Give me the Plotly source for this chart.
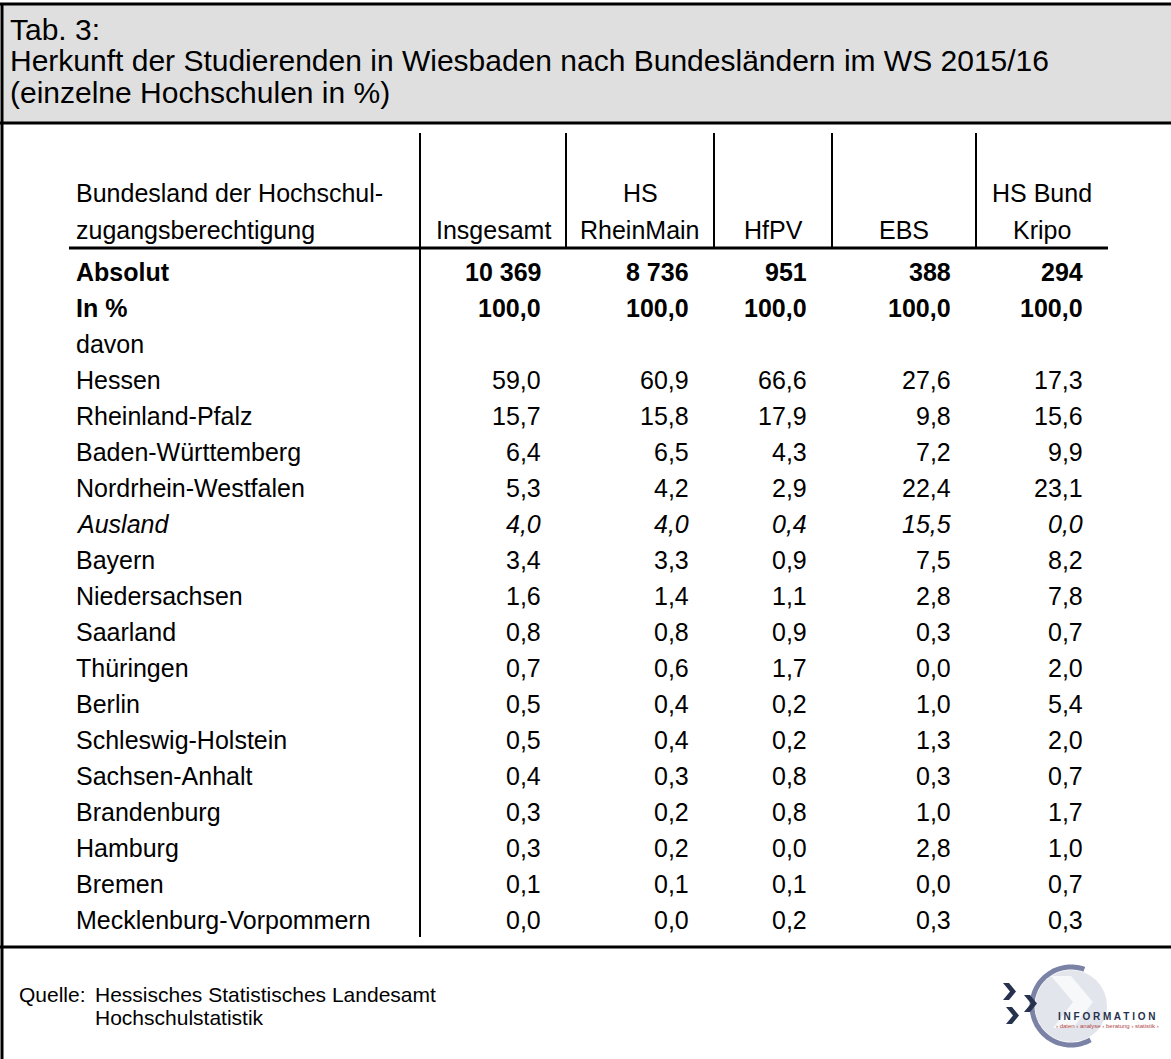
import numpy as np
import plotly.graph_objects as go

W, H = 1171, 1059

# ---------------- data ----------------
title_lines = ["Tab. 3:",
               "Herkunft der Studierenden in Wiesbaden nach Bundesländern im WS 2015/16",
               "(einzelne Hochschulen in %)"]
stub_header = ["Bundesland der Hochschul-", "zugangsberechtigung"]
col_header_top = ["", "HS", "", "", "HS Bund"]
col_header_bottom = ["Insgesamt", "RheinMain", "HfPV", "EBS", "Kripo"]

absolut = [10369, 8736, 951, 388, 294]
in_prozent = [100.0, 100.0, 100.0, 100.0, 100.0]

laender = ["Hessen", "Rheinland-Pfalz", "Baden-Württemberg", "Nordrhein-Westfalen",
           "Ausland", "Bayern", "Niedersachsen", "Saarland", "Thüringen", "Berlin",
           "Schleswig-Holstein", "Sachsen-Anhalt", "Brandenburg", "Hamburg", "Bremen",
           "Mecklenburg-Vorpommern"]
insgesamt = [59.0, 15.7, 6.4, 5.3, 4.0, 3.4, 1.6, 0.8, 0.7, 0.5, 0.5, 0.4, 0.3, 0.3, 0.1, 0.0]
hs_rheinmain = [60.9, 15.8, 6.5, 4.2, 4.0, 3.3, 1.4, 0.8, 0.6, 0.4, 0.4, 0.3, 0.2, 0.2, 0.1, 0.0]
hfpv = [66.6, 17.9, 4.3, 2.9, 0.4, 0.9, 1.1, 0.9, 1.7, 0.2, 0.2, 0.8, 0.8, 0.0, 0.1, 0.2]
ebs = [27.6, 9.8, 7.2, 22.4, 15.5, 7.5, 2.8, 0.3, 0.0, 1.0, 1.3, 0.3, 1.0, 2.8, 0.0, 0.3]
hs_bund_kripo = [17.3, 15.6, 9.9, 23.1, 0.0, 8.2, 7.8, 0.7, 2.0, 5.4, 2.0, 0.7, 1.7, 1.0, 0.7, 0.3]
italic_rows = ["Ausland"]

quelle_label = "Quelle:"
quelle_lines = ["Hessisches Statistisches Landesamt", "Hochschulstatistik"]

# ---------------- layout constants ----------------
FONT = "Liberation Sans, Arial, sans-serif"
FS_BODY = 25
FS_TITLE = 30
FS_FOOT = 21
INK = "#000000"

col_lines_x = [420, 566, 714, 832, 976]
table_right = 1108
stub_x = 75
row0_y = 272
pitch = 36.0
hdr1_y, hdr2_y = 193, 230
underline_y = 248
vtop = 133
header_bottom = 123
footer_line_y = 947


def fmt_pct(v):
    return f"{v:.1f}".replace(".", ",")


def fmt_abs(v):
    return f"{v:,}".replace(",", " ")


fig = go.Figure()
fig.add_trace(go.Scatter(x=[0, W], y=[0, H], mode="markers",
                         marker=dict(opacity=0), hoverinfo="skip", showlegend=False))

shapes = []
annos = []


def text(x, y, s, size=FS_BODY, xanchor="left", bold=False, italic=False, color=INK):
    t = s
    if bold:
        t = f"<b>{t}</b>"
    if italic:
        t = f"<i>{t}</i>"
    annos.append(dict(x=x, y=y, xref="x", yref="y", text=t, showarrow=False,
                      xanchor=xanchor, yanchor="middle", borderpad=0,
                      font=dict(family=FONT, size=size, color=color)))


def line(x0, y0, x1, y1, w=2, color=INK):
    shapes.append(dict(type="line", x0=x0, y0=y0, x1=x1, y1=y1, xref="x", yref="y",
                       line=dict(color=color, width=w)))


# title box
shapes.append(dict(type="rect", x0=2, y0=4, x1=W + 5, y1=header_bottom, xref="x", yref="y",
                   fillcolor="#DFDFDF", line=dict(width=0), layer="below"))
line(0, 4, W + 5, 4, 3)
line(2, 3, 2, H + 5, 3)
line(0, header_bottom, W + 5, header_bottom, 3)
title_y = [29, 60.5, 92]
for ty, tl in zip(title_y, title_lines):
    text(9, ty, tl, size=FS_TITLE)

# column separators
line(col_lines_x[0], vtop, col_lines_x[0], 937, 2)
for xv in col_lines_x[1:]:
    line(xv, vtop, xv, underline_y, 2)
line(stub_x - 6, underline_y, table_right, underline_y, 3)

# headers
text(stub_x, hdr1_y, stub_header[0])
text(stub_x, hdr2_y, stub_header[1])
col_edges = col_lines_x + [table_right]
centers = [(col_edges[i] + col_edges[i + 1]) / 2 for i in range(5)]
rights = [col_edges[i + 1] - 24 for i in range(5)]
for c, t1, t2 in zip(centers, col_header_top, col_header_bottom):
    if t1:
        text(c, hdr1_y, t1, xanchor="center")
    text(c, hdr2_y, t2, xanchor="center")

# rows
text(stub_x, row0_y, "Absolut", bold=True)
for r, v in zip(rights, absolut):
    text(r, row0_y, fmt_abs(v), xanchor="right", bold=True)
text(stub_x, row0_y + pitch, "In %", bold=True)
for r, v in zip(rights, in_prozent):
    text(r, row0_y + pitch, fmt_pct(v), xanchor="right", bold=True)
text(stub_x, row0_y + 2 * pitch, "davon")

columns = [insgesamt, hs_rheinmain, hfpv, ebs, hs_bund_kripo]
for i, land in enumerate(laender):
    y = row0_y + (3 + i) * pitch
    it = land in italic_rows
    text(stub_x, y, land, italic=it)
    for r, col in zip(rights, columns):
        text(r, y, fmt_pct(col[i]), xanchor="right", italic=it)

# footer
line(0, footer_line_y, W + 5, footer_line_y, 3)
text(18, 994, quelle_label, size=FS_FOOT)
text(94, 994, quelle_lines[0], size=FS_FOOT)
text(94, 1017, quelle_lines[1], size=FS_FOOT)

# logo
cx, cy, rad = 1071, 1006, 39
shapes.append(dict(type="circle", x0=cx - rad + 3, y0=cy - rad + 3, x1=cx + rad - 3, y1=cy + rad - 3,
                   xref="x", yref="y", fillcolor="#E3E5EC", line=dict(width=0)))
shapes.append(dict(type="path", xref="x", yref="y",
                   path=(f"M {cx-20},{cy-30} L {cx},{cy-30} L {cx+22},{cy-4} L {cx+2},{cy+22} "
                         f"L {cx-18},{cy+22} L {cx+2},{cy-4} Z"),
                   fillcolor="#F7F8FA", line=dict(width=0)))
ang = np.linspace(np.deg2rad(70), np.deg2rad(300), 80)
pts = [(cx + rad * np.cos(a), cy - rad * np.sin(a)) for a in ang]
path = "M " + " L ".join(f"{px:.1f},{py:.1f}" for px, py in pts)
shapes.append(dict(type="path", path=path, xref="x", yref="y",
                   line=dict(color="#7A82A6", width=5)))


def chevron(x0, y0, w, h, t):
    return (f"M {x0},{y0} L {x0+t},{y0} L {x0+w},{y0+h/2} L {x0+t},{y0+h} "
            f"L {x0},{y0+h} L {x0+w-t},{y0+h/2} Z")


for (x0, y0) in [(1003, 983), (1024, 995), (1006, 1007)]:
    shapes.append(dict(type="path", xref="x", yref="y", path=chevron(x0, y0, 13, 17, 6),
                       fillcolor="#27324E", line=dict(width=0)))
annos.append(dict(x=1107, y=1016, xref="x", yref="y", text="<b>I N F O R M A T I O N</b>",
                  showarrow=False, xanchor="center", yanchor="middle",
                  font=dict(family=FONT, size=10, color="#27324E")))
annos.append(dict(x=1107, y=1026, xref="x", yref="y",
                  text="› daten › analyse › beratung › statistik ›",
                  showarrow=False, xanchor="center", yanchor="middle",
                  font=dict(family=FONT, size=6, color="#B04848")))

fig.update_layout(
    width=W, height=H, margin=dict(l=0, r=0, t=0, b=0),
    paper_bgcolor="white", plot_bgcolor="white",
    xaxis=dict(range=[0, W], visible=False, fixedrange=True),
    yaxis=dict(range=[H, 0], visible=False, fixedrange=True),
    shapes=shapes, annotations=annos, showlegend=False,
)
fig.write_html("out.html", config={"displayModeBar": False},
               post_script="document.body.style.margin='0';document.body.style.overflow='hidden';")
